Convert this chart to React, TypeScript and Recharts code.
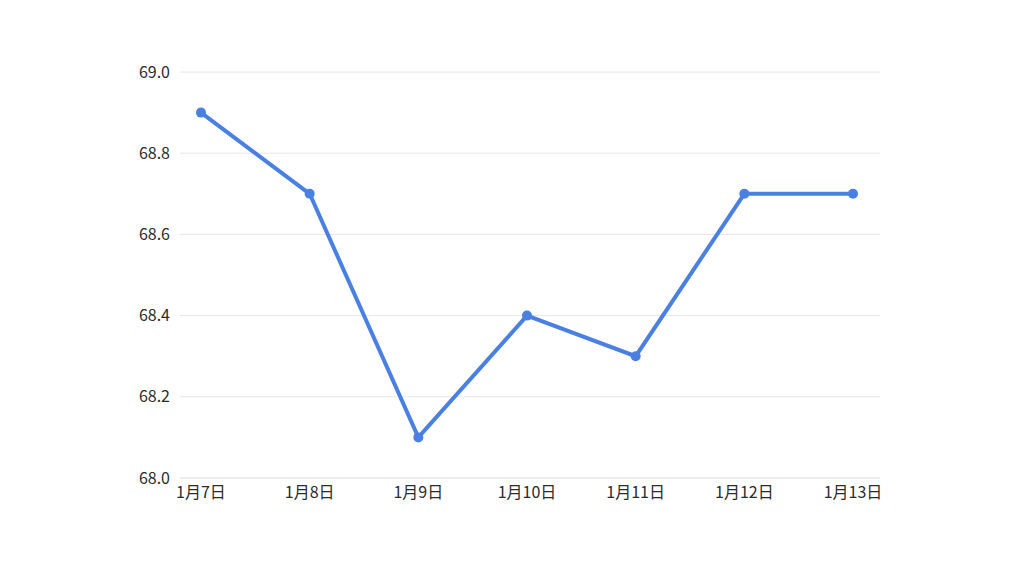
import { LineChart, Line, XAxis, YAxis, CartesianGrid } from "recharts";

const dates = ["1月7日", "1月8日", "1月9日", "1月10日", "1月11日", "1月12日", "1月13日"];
const values = [68.9, 68.7, 68.1, 68.4, 68.3, 68.7, 68.7];
const yTicks = [68.0, 68.2, 68.4, 68.6, 68.8, 69.0];

const data = dates.map((d, i) => ({ name: d, value: values[i] }));

const font = "'Noto Sans CJK SC', 'Noto Sans', sans-serif";
const tick = { fill: "#2b2b2b", fontSize: 16, fontFamily: font };

export default function App() {
  return (
    <div style={{ position: "absolute", left: 0, top: 0, background: "#fff" }}>
      <LineChart width={1024} height={576} data={data} margin={{ top: 72, right: 144, bottom: 68, left: 120 }}>
        <CartesianGrid stroke="#e6e6e6" vertical={false} />
        <XAxis
          dataKey="name"
          height={30}
          tick={tick}
          tickLine={false}
          axisLine={{ stroke: "#e6e6e6" }}
          padding={{ left: 21, right: 27 }}
          tickMargin={3}
        />
        <YAxis
          width={60}
          domain={[68, 69]}
          ticks={yTicks}
          tickFormatter={(v: number) => v.toFixed(1)}
          tick={tick}
          tickLine={false}
          axisLine={false}
          tickMargin={4}
        />
        <Line
          type="linear"
          dataKey="value"
          stroke="#4a80e2"
          strokeWidth={4}
          dot={{ r: 5, fill: "#4a80e2", stroke: "#4a80e2", strokeWidth: 0 }}
          isAnimationActive={false}
        />
      </LineChart>
    </div>
  );
}
